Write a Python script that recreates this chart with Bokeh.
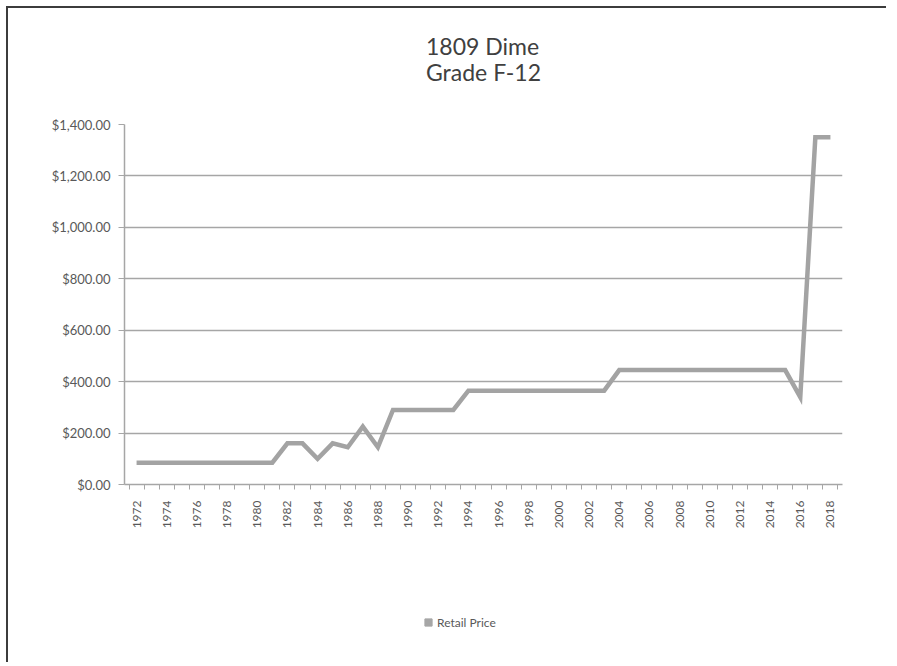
from bokeh.plotting import figure
from bokeh.layouts import column
from bokeh.models import (ColumnDataSource, FixedTicker, NumeralTickFormatter,
                          Legend, LegendItem, Title, Range1d)
from bokeh.embed import file_html
from bokeh.resources import INLINE
import math

# ---- data ----
years = [1972, 1973, 1974, 1975, 1976, 1977, 1978, 1979, 1980, 1981,
         1982, 1983, 1984, 1985, 1986, 1987, 1988, 1989, 1990, 1991,
         1992, 1993, 1994, 1995, 1996, 1997, 1998, 1999, 2000, 2001,
         2002, 2003, 2004, 2005, 2006, 2007, 2008, 2009, 2010, 2011,
         2012, 2013, 2014, 2015, 2016, 2017, 2018]
retail_price = [85, 85, 85, 85, 85, 85, 85, 85, 85, 85,
                160, 160, 100, 160, 145, 225, 145, 290, 290, 290,
                290, 290, 365, 365, 365, 365, 365, 365, 365, 365,
                365, 365, 445, 445, 445, 445, 445, 445, 445, 445,
                445, 445, 445, 445, 340, 1350, 1350]
year_labels = [1972, 1974, 1976, 1978, 1980, 1982, 1984, 1986, 1988, 1990,
               1992, 1994, 1996, 1998, 2000, 2002, 2004, 2006, 2008, 2010,
               2012, 2014, 2016, 2018]
price_ticks = [0, 200, 400, 600, 800, 1000, 1200, 1400]
title_lines = ["1809 Dime", "Grade F-12"]
series_name = "Retail Price"

FONT = "Lato"
TXT = "#595959"
GRID = "#a6a6a6"
W = 880

src = ColumnDataSource(data=dict(year=years, price=retail_price))

p = figure(width=W, height=592, output_backend="svg", toolbar_location=None,
           x_range=Range1d(years[0] - 0.8, years[-1] + 0.8),
           y_range=Range1d(price_ticks[0], price_ticks[-1]),
           min_border_left=116, min_border_right=46,
           min_border_top=116, min_border_bottom=116,
           background_fill_color="white", border_fill_color="white",
           outline_line_color=None)

# two-line title; a trailing blank line lifts the block toward the top edge
p.add_layout(Title(text="\n".join(title_lines) + "\n ", align="center",
                   text_font=FONT, text_font_size="23px",
                   text_font_style="normal", text_color="#404040",
                   text_line_height=0.95, standoff=23), "above")

# y axis
p.yaxis.ticker = FixedTicker(ticks=price_ticks)
p.yaxis.formatter = NumeralTickFormatter(format="$0,0.00")
p.yaxis.axis_line_color = GRID
p.yaxis.axis_line_width = 1.5
p.yaxis.major_tick_line_color = GRID
p.yaxis.major_tick_out = 6
p.yaxis.major_tick_in = 0
p.yaxis.minor_tick_line_color = None
p.yaxis.major_label_text_font = FONT
p.yaxis.major_label_text_font_size = "13px"
p.yaxis.major_label_text_color = TXT
p.yaxis.major_label_standoff = 8

# x axis: labels every two years, ticks between the years
between = [y - 0.5 for y in years] + [years[-1] + 0.5]
p.xaxis.ticker = FixedTicker(ticks=year_labels, minor_ticks=between)
p.xaxis.major_tick_line_color = None
p.xaxis.minor_tick_line_color = GRID
p.xaxis.minor_tick_out = 5
p.xaxis.minor_tick_in = 0
p.xaxis.axis_line_color = GRID
p.xaxis.axis_line_width = 1.5
p.xaxis.major_label_orientation = math.pi / 2
p.xaxis.major_label_text_font = FONT
p.xaxis.major_label_text_font_size = "12px"
p.xaxis.major_label_text_color = TXT
p.xaxis.major_label_standoff = 10

p.xgrid.grid_line_color = None
p.ygrid.ticker = FixedTicker(ticks=price_ticks)
p.ygrid.grid_line_color = GRID
p.ygrid.grid_line_width = 1.5

p.line("year", "price", source=src, line_color="#a3a3a3", line_width=4.5,
       line_join="miter")

# legend strip (separate small figure so the legend can sit below the axis)
pl = figure(width=W, height=64, output_backend="svg", toolbar_location=None,
            x_range=Range1d(0, 1), y_range=Range1d(0, 1),
            min_border_left=0, min_border_right=0, min_border_top=0,
            min_border_bottom=0, outline_line_color=None,
            background_fill_color="white", border_fill_color="white")
pl.axis.visible = False
pl.grid.visible = False
marker = pl.scatter("year", "price", source=src, marker="square", size=0,
                    fill_color="#a6a6a6", line_color="#a6a6a6")
legend = Legend(items=[LegendItem(label=series_name, renderers=[marker])],
                location=(295, 33), orientation="horizontal",
                label_text_font=FONT, label_text_font_size="12px",
                label_text_color=TXT, glyph_width=18, glyph_height=18,
                label_standoff=0, border_line_color=None,
                background_fill_alpha=0, margin=0, padding=0)
pl.add_layout(legend, "center")

# chart frame: dark rule along the top and left edges (shadow, so no layout shift)
page = column(p, pl, spacing=0,
              styles={"margin": "8px 0 0 8px",
                      "box-shadow": "-2px -2px 0 0 #3c3c3c"})

open("out.html", "w").write(file_html(page, INLINE))
